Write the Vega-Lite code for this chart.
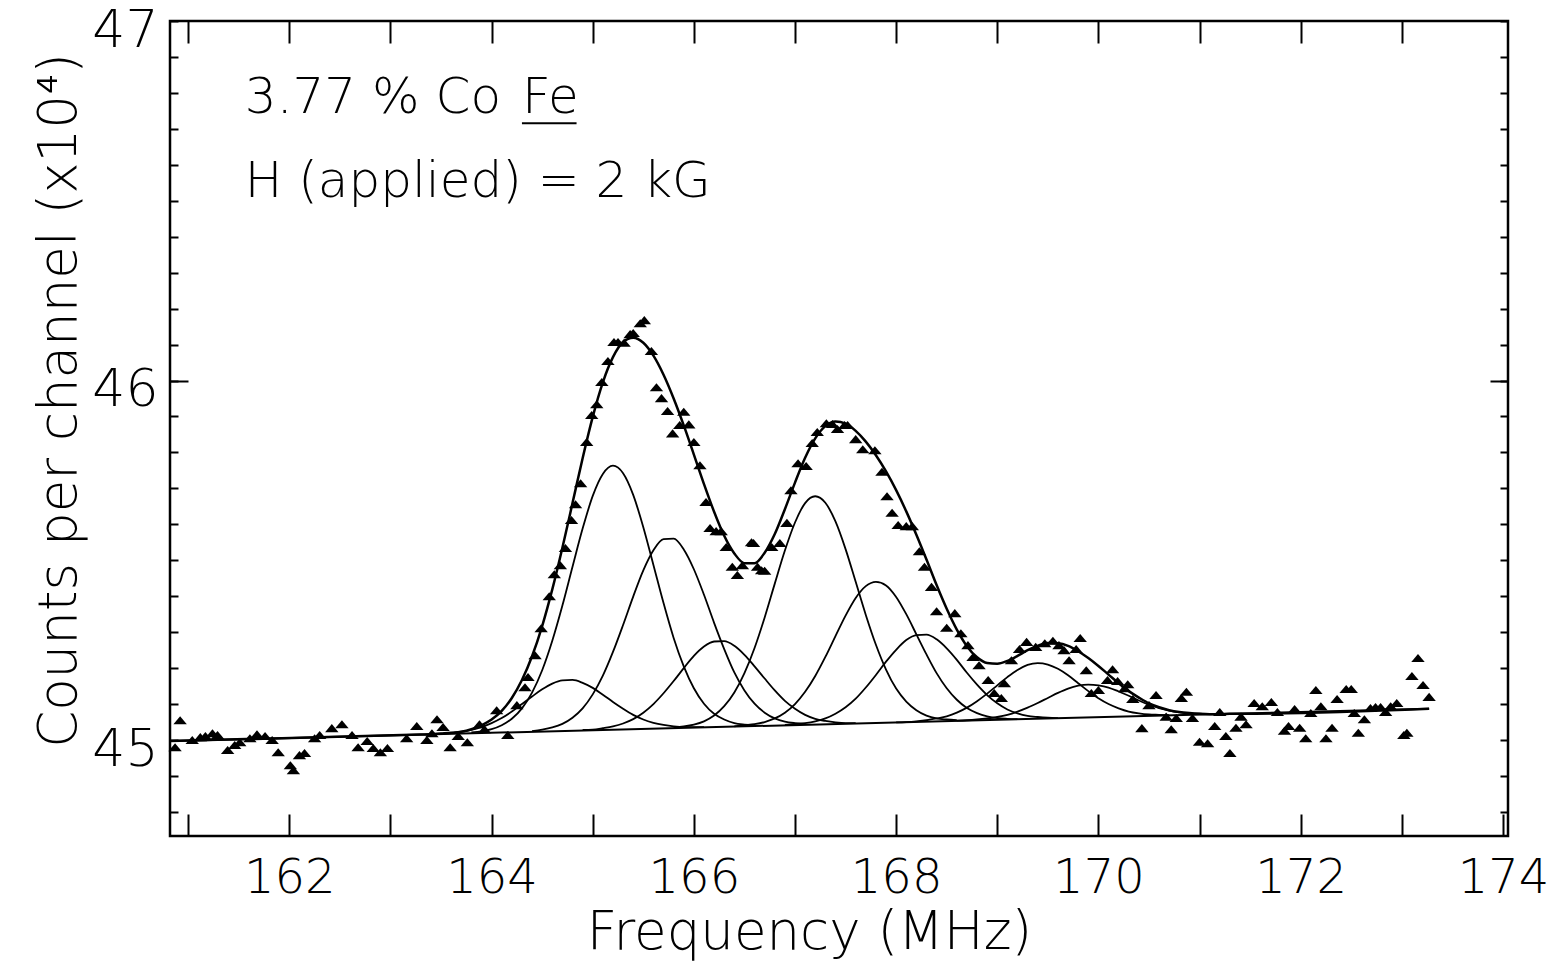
{
  "$schema": "https://vega.github.io/schema/vega-lite/v6.json",
  "width": 1338,
  "height": 815,
  "autosize": {"type": "none"},
  "padding": {"left": 170, "top": 21, "right": 42, "bottom": 132},
  "background": "white",
  "config": {
    "view": {"stroke": "black", "strokeWidth": 2.5},
    "axis": {"domain": false, "grid": false, "tickColor": "black", "tickWidth": 2, "labelColor": "black", "titleColor": "black", "labelFont": "DejaVu Sans", "titleFont": "DejaVu Sans", "labelFontWeight": 300, "titleFontWeight": 300}
  },
  "datasets": {
    "pts": [
      {"f":160.87,"c":44.980},{"f":160.92,"c":45.055},{"f":161.04,"c":45.000},{"f":161.12,"c":45.008},{"f":161.17,"c":45.011},{"f":161.24,"c":45.019},{"f":161.29,"c":45.014},{"f":161.39,"c":44.972},{"f":161.46,"c":44.986},{"f":161.51,"c":44.994},{"f":161.61,"c":45.005},{"f":161.68,"c":45.016},{"f":161.76,"c":45.011},{"f":161.83,"c":45.000},{"f":161.89,"c":44.966},{"f":162.01,"c":44.930},{"f":162.04,"c":44.916},{"f":162.10,"c":44.958},{"f":162.15,"c":44.964},{"f":162.25,"c":45.005},{"f":162.30,"c":45.014},{"f":162.42,"c":45.033},{"f":162.52,"c":45.044},{"f":162.62,"c":45.014},{"f":162.68,"c":44.980},{"f":162.77,"c":44.997},{"f":162.83,"c":44.978},{"f":162.90,"c":44.966},{"f":162.97,"c":44.978},{"f":163.16,"c":45.005},{"f":163.26,"c":45.039},{"f":163.36,"c":45.000},{"f":163.41,"c":45.019},{"f":163.46,"c":45.058},{"f":163.52,"c":45.036},{"f":163.59,"c":44.980},{"f":163.67,"c":45.011},{"f":163.76,"c":44.994},{"f":163.88,"c":45.044},{"f":163.93,"c":45.030},{"f":164.05,"c":45.083},{"f":164.16,"c":45.014},{"f":164.25,"c":45.097},{"f":164.33,"c":45.147},{"f":164.36,"c":45.175},{"f":164.43,"c":45.236},{"f":164.49,"c":45.311},{"f":164.57,"c":45.400},{"f":164.62,"c":45.461},{"f":164.68,"c":45.486},{"f":164.73,"c":45.534},{"f":164.79,"c":45.612},{"f":164.83,"c":45.656},{"f":164.88,"c":45.714},{"f":164.94,"c":45.829},{"f":164.99,"c":45.904},{"f":165.04,"c":45.934},{"f":165.09,"c":45.996},{"f":165.15,"c":46.054},{"f":165.21,"c":46.107},{"f":165.25,"c":46.107},{"f":165.31,"c":46.105},{"f":165.37,"c":46.129},{"f":165.40,"c":46.132},{"f":165.47,"c":46.159},{"f":165.51,"c":46.168},{"f":165.58,"c":46.082},{"f":165.63,"c":45.981},{"f":165.68,"c":45.951},{"f":165.74,"c":45.915},{"f":165.79,"c":45.853},{"f":165.86,"c":45.876},{"f":165.90,"c":45.913},{"f":165.95,"c":45.878},{"f":166.00,"c":45.829},{"f":166.06,"c":45.764},{"f":166.12,"c":45.662},{"f":166.16,"c":45.590},{"f":166.22,"c":45.581},{"f":166.27,"c":45.581},{"f":166.32,"c":45.537},{"f":166.38,"c":45.482},{"f":166.43,"c":45.459},{"f":166.48,"c":45.486},{"f":166.57,"c":45.550},{"f":166.59,"c":45.548},{"f":166.63,"c":45.482},{"f":166.67,"c":45.472},{"f":166.70,"c":45.471},{"f":166.77,"c":45.537},{"f":166.85,"c":45.548},{"f":166.92,"c":45.604},{"f":166.96,"c":45.695},{"f":167.03,"c":45.770},{"f":167.11,"c":45.762},{"f":167.17,"c":45.826},{"f":167.22,"c":45.857},{"f":167.31,"c":45.881},{"f":167.37,"c":45.879},{"f":167.42,"c":45.865},{"f":167.49,"c":45.876},{"f":167.52,"c":45.876},{"f":167.60,"c":45.837},{"f":167.67,"c":45.809},{"f":167.79,"c":45.806},{"f":167.86,"c":45.746},{"f":167.91,"c":45.678},{"f":167.96,"c":45.632},{"f":168.02,"c":45.598},{"f":168.10,"c":45.595},{"f":168.16,"c":45.595},{"f":168.23,"c":45.525},{"f":168.28,"c":45.482},{"f":168.35,"c":45.426},{"f":168.40,"c":45.358},{"f":168.50,"c":45.312},{"f":168.58,"c":45.353},{"f":168.64,"c":45.297},{"f":168.71,"c":45.264},{"f":168.76,"c":45.231},{"f":168.82,"c":45.208},{"f":168.91,"c":45.167},{"f":168.97,"c":45.131},{"f":169.04,"c":45.117},{"f":169.07,"c":45.158},{"f":169.14,"c":45.222},{"f":169.22,"c":45.253},{"f":169.29,"c":45.273},{"f":169.38,"c":45.259},{"f":169.47,"c":45.269},{"f":169.55,"c":45.276},{"f":169.61,"c":45.264},{"f":169.66,"c":45.250},{"f":169.71,"c":45.222},{"f":169.78,"c":45.253},{"f":169.82,"c":45.284},{"f":169.88,"c":45.194},{"f":169.93,"c":45.131},{"f":170.00,"c":45.139},{"f":170.09,"c":45.167},{"f":170.14,"c":45.197},{"f":170.19,"c":45.164},{"f":170.26,"c":45.144},{"f":170.29,"c":45.155},{"f":170.34,"c":45.114},{"f":170.43,"c":45.033},{"f":170.50,"c":45.097},{"f":170.57,"c":45.125},{"f":170.67,"c":45.065},{"f":170.72,"c":45.030},{"f":170.77,"c":45.061},{"f":170.82,"c":45.117},{"f":170.87,"c":45.134},{"f":170.93,"c":45.061},{"f":171.00,"c":44.995},{"f":171.08,"c":44.991},{"f":171.15,"c":45.039},{"f":171.20,"c":45.078},{"f":171.26,"c":45.011},{"f":171.30,"c":44.964},{"f":171.36,"c":45.034},{"f":171.41,"c":45.065},{"f":171.46,"c":45.044},{"f":171.54,"c":45.103},{"f":171.62,"c":45.094},{"f":171.71,"c":45.106},{"f":171.77,"c":45.078},{"f":171.84,"c":45.026},{"f":171.88,"c":45.039},{"f":171.94,"c":45.086},{"f":171.99,"c":45.034},{"f":172.05,"c":45.005},{"f":172.10,"c":45.075},{"f":172.15,"c":45.139},{"f":172.20,"c":45.094},{"f":172.25,"c":45.005},{"f":172.31,"c":45.034},{"f":172.36,"c":45.114},{"f":172.45,"c":45.142},{"f":172.50,"c":45.142},{"f":172.53,"c":45.075},{"f":172.57,"c":45.020},{"f":172.63,"c":45.058},{"f":172.69,"c":45.089},{"f":172.74,"c":45.092},{"f":172.79,"c":45.092},{"f":172.84,"c":45.078},{"f":172.89,"c":45.094},{"f":172.95,"c":45.103},{"f":173.02,"c":45.014},{"f":173.05,"c":45.020},{"f":173.10,"c":45.178},{"f":173.16,"c":45.228},{"f":173.21,"c":45.153},{"f":173.27,"c":45.120}
    ],
    "total": [
      {"f":160.82,"c":44.997},{"f":163.3,"c":45.015},{"f":163.4,"c":45.016},{"f":163.5,"c":45.018},{"f":163.6,"c":45.020},{"f":163.7,"c":45.023},{"f":163.8,"c":45.030},{"f":163.9,"c":45.041},{"f":164.0,"c":45.057},{"f":164.1,"c":45.081},{"f":164.2,"c":45.117},{"f":164.3,"c":45.167},{"f":164.4,"c":45.233},{"f":164.5,"c":45.317},{"f":164.6,"c":45.419},{"f":164.7,"c":45.535},{"f":164.8,"c":45.659},{"f":164.9,"c":45.784},{"f":165.0,"c":45.899},{"f":165.1,"c":45.995},{"f":165.2,"c":46.065},{"f":165.3,"c":46.107},{"f":165.4,"c":46.119},{"f":165.5,"c":46.105},{"f":165.6,"c":46.069},{"f":165.7,"c":46.016},{"f":165.8,"c":45.950},{"f":165.9,"c":45.875},{"f":166.0,"c":45.794},{"f":166.1,"c":45.712},{"f":166.2,"c":45.635},{"f":166.3,"c":45.568},{"f":166.4,"c":45.519},{"f":166.5,"c":45.492},{"f":166.6,"c":45.492},{"f":166.7,"c":45.521},{"f":166.8,"c":45.573},{"f":166.9,"c":45.642},{"f":167.0,"c":45.716},{"f":167.1,"c":45.785},{"f":167.2,"c":45.839},{"f":167.3,"c":45.873},{"f":167.4,"c":45.886},{"f":167.5,"c":45.880},{"f":167.6,"c":45.860},{"f":167.7,"c":45.830},{"f":167.8,"c":45.792},{"f":167.9,"c":45.747},{"f":168.0,"c":45.695},{"f":168.1,"c":45.636},{"f":168.2,"c":45.571},{"f":168.3,"c":45.502},{"f":168.4,"c":45.431},{"f":168.5,"c":45.365},{"f":168.6,"c":45.307},{"f":168.7,"c":45.261},{"f":168.8,"c":45.230},{"f":168.9,"c":45.214},{"f":169.0,"c":45.212},{"f":169.1,"c":45.220},{"f":169.2,"c":45.234},{"f":169.3,"c":45.250},{"f":169.4,"c":45.262},{"f":169.5,"c":45.270},{"f":169.6,"c":45.269},{"f":169.7,"c":45.262},{"f":169.8,"c":45.247},{"f":169.9,"c":45.228},{"f":170.0,"c":45.206},{"f":170.1,"c":45.182},{"f":170.2,"c":45.158},{"f":170.3,"c":45.136},{"f":170.4,"c":45.118},{"f":170.5,"c":45.102},{"f":170.6,"c":45.091},{"f":170.7,"c":45.083},{"f":170.8,"c":45.078},{"f":170.9,"c":45.075},{"f":171.0,"c":45.073},{"f":171.1,"c":45.072},{"f":171.2,"c":45.072},{"f":171.3,"c":45.073},{"f":171.4,"c":45.073},{"f":173.27,"c":45.087}
    ],
    "base": [{"f":160.82,"c":44.997},{"f":173.27,"c":45.087}],
    "comps": [
      {"k":"c1","f":163.4,"c":45.016},{"k":"c1","f":163.5,"c":45.018},{"k":"c1","f":163.6,"c":45.020},{"k":"c1","f":163.7,"c":45.023},{"k":"c1","f":163.8,"c":45.028},{"k":"c1","f":163.9,"c":45.036},{"k":"c1","f":164.0,"c":45.047},{"k":"c1","f":164.1,"c":45.061},{"k":"c1","f":164.2,"c":45.079},{"k":"c1","f":164.3,"c":45.100},{"k":"c1","f":164.4,"c":45.121},{"k":"c1","f":164.5,"c":45.141},{"k":"c1","f":164.6,"c":45.157},{"k":"c1","f":164.7,"c":45.166},{"k":"c1","f":164.8,"c":45.167},{"k":"c1","f":164.9,"c":45.159},{"k":"c1","f":165.0,"c":45.145},{"k":"c1","f":165.1,"c":45.126},{"k":"c1","f":165.2,"c":45.106},{"k":"c1","f":165.3,"c":45.087},{"k":"c1","f":165.4,"c":45.070},{"k":"c1","f":165.5,"c":45.057},{"k":"c1","f":165.6,"c":45.048},{"k":"c1","f":165.7,"c":45.042},{"k":"c1","f":165.8,"c":45.038},{"k":"c1","f":165.9,"c":45.036},{"k":"c1","f":166.0,"c":45.036},{"k":"c1","f":166.1,"c":45.036},
      {"k":"c2","f":163.8,"c":45.021},{"k":"c2","f":163.9,"c":45.024},{"k":"c2","f":164.0,"c":45.030},{"k":"c2","f":164.1,"c":45.041},{"k":"c2","f":164.2,"c":45.059},{"k":"c2","f":164.3,"c":45.088},{"k":"c2","f":164.4,"c":45.132},{"k":"c2","f":164.5,"c":45.194},{"k":"c2","f":164.6,"c":45.276},{"k":"c2","f":164.7,"c":45.374},{"k":"c2","f":164.8,"c":45.482},{"k":"c2","f":164.9,"c":45.588},{"k":"c2","f":165.0,"c":45.679},{"k":"c2","f":165.1,"c":45.740},{"k":"c2","f":165.2,"c":45.763},{"k":"c2","f":165.3,"c":45.742},{"k":"c2","f":165.4,"c":45.682},{"k":"c2","f":165.5,"c":45.592},{"k":"c2","f":165.6,"c":45.487},{"k":"c2","f":165.7,"c":45.381},{"k":"c2","f":165.8,"c":45.284},{"k":"c2","f":165.9,"c":45.205},{"k":"c2","f":166.0,"c":45.144},{"k":"c2","f":166.1,"c":45.101},{"k":"c2","f":166.2,"c":45.073},{"k":"c2","f":166.3,"c":45.057},{"k":"c2","f":166.4,"c":45.047},{"k":"c2","f":166.5,"c":45.043},{"k":"c2","f":166.6,"c":45.041},
      {"k":"c3","f":164.4,"c":45.025},{"k":"c3","f":164.5,"c":45.029},{"k":"c3","f":164.6,"c":45.035},{"k":"c3","f":164.7,"c":45.045},{"k":"c3","f":164.8,"c":45.062},{"k":"c3","f":164.9,"c":45.088},{"k":"c3","f":165.0,"c":45.127},{"k":"c3","f":165.1,"c":45.179},{"k":"c3","f":165.2,"c":45.245},{"k":"c3","f":165.3,"c":45.320},{"k":"c3","f":165.4,"c":45.399},{"k":"c3","f":165.5,"c":45.472},{"k":"c3","f":165.6,"c":45.528},{"k":"c3","f":165.7,"c":45.559},{"k":"c3","f":165.8,"c":45.560},{"k":"c3","f":165.9,"c":45.530},{"k":"c3","f":166.0,"c":45.475},{"k":"c3","f":166.1,"c":45.404},{"k":"c3","f":166.2,"c":45.326},{"k":"c3","f":166.3,"c":45.253},{"k":"c3","f":166.4,"c":45.188},{"k":"c3","f":166.5,"c":45.138},{"k":"c3","f":166.6,"c":45.101},{"k":"c3","f":166.7,"c":45.076},{"k":"c3","f":166.8,"c":45.060},{"k":"c3","f":166.9,"c":45.051},{"k":"c3","f":167.0,"c":45.047},{"k":"c3","f":167.1,"c":45.045},
      {"k":"c4","f":164.9,"c":45.028},{"k":"c4","f":165.0,"c":45.029},{"k":"c4","f":165.1,"c":45.033},{"k":"c4","f":165.2,"c":45.038},{"k":"c4","f":165.3,"c":45.046},{"k":"c4","f":165.4,"c":45.058},{"k":"c4","f":165.5,"c":45.076},{"k":"c4","f":165.6,"c":45.100},{"k":"c4","f":165.7,"c":45.130},{"k":"c4","f":165.8,"c":45.164},{"k":"c4","f":165.9,"c":45.200},{"k":"c4","f":166.0,"c":45.234},{"k":"c4","f":166.1,"c":45.260},{"k":"c4","f":166.2,"c":45.274},{"k":"c4","f":166.3,"c":45.275},{"k":"c4","f":166.4,"c":45.262},{"k":"c4","f":166.5,"c":45.237},{"k":"c4","f":166.6,"c":45.205},{"k":"c4","f":166.7,"c":45.171},{"k":"c4","f":166.8,"c":45.138},{"k":"c4","f":166.9,"c":45.109},{"k":"c4","f":167.0,"c":45.087},{"k":"c4","f":167.1,"c":45.070},{"k":"c4","f":167.2,"c":45.059},{"k":"c4","f":167.3,"c":45.053},{"k":"c4","f":167.4,"c":45.049},{"k":"c4","f":167.5,"c":45.047},{"k":"c4","f":167.6,"c":45.047},
      {"k":"c5","f":165.8,"c":45.035},{"k":"c5","f":165.9,"c":45.038},{"k":"c5","f":166.0,"c":45.043},{"k":"c5","f":166.1,"c":45.052},{"k":"c5","f":166.2,"c":45.068},{"k":"c5","f":166.3,"c":45.094},{"k":"c5","f":166.4,"c":45.132},{"k":"c5","f":166.5,"c":45.186},{"k":"c5","f":166.6,"c":45.256},{"k":"c5","f":166.7,"c":45.341},{"k":"c5","f":166.8,"c":45.435},{"k":"c5","f":166.9,"c":45.527},{"k":"c5","f":167.0,"c":45.605},{"k":"c5","f":167.1,"c":45.659},{"k":"c5","f":167.2,"c":45.678},{"k":"c5","f":167.3,"c":45.660},{"k":"c5","f":167.4,"c":45.608},{"k":"c5","f":167.5,"c":45.531},{"k":"c5","f":167.6,"c":45.440},{"k":"c5","f":167.7,"c":45.348},{"k":"c5","f":167.8,"c":45.265},{"k":"c5","f":167.9,"c":45.196},{"k":"c5","f":168.0,"c":45.143},{"k":"c5","f":168.1,"c":45.107},{"k":"c5","f":168.2,"c":45.083},{"k":"c5","f":168.3,"c":45.068},{"k":"c5","f":168.4,"c":45.060},{"k":"c5","f":168.5,"c":45.057},{"k":"c5","f":168.6,"c":45.055},
      {"k":"c6","f":166.4,"c":45.038},{"k":"c6","f":166.5,"c":45.041},{"k":"c6","f":166.6,"c":45.044},{"k":"c6","f":166.7,"c":45.050},{"k":"c6","f":166.8,"c":45.060},{"k":"c6","f":166.9,"c":45.076},{"k":"c6","f":167.0,"c":45.100},{"k":"c6","f":167.1,"c":45.134},{"k":"c6","f":167.2,"c":45.178},{"k":"c6","f":167.3,"c":45.231},{"k":"c6","f":167.4,"c":45.289},{"k":"c6","f":167.5,"c":45.346},{"k":"c6","f":167.6,"c":45.395},{"k":"c6","f":167.7,"c":45.428},{"k":"c6","f":167.8,"c":45.440},{"k":"c6","f":167.9,"c":45.430},{"k":"c6","f":168.0,"c":45.398},{"k":"c6","f":168.1,"c":45.350},{"k":"c6","f":168.2,"c":45.294},{"k":"c6","f":168.3,"c":45.238},{"k":"c6","f":168.4,"c":45.186},{"k":"c6","f":168.5,"c":45.144},{"k":"c6","f":168.6,"c":45.112},{"k":"c6","f":168.7,"c":45.089},{"k":"c6","f":168.8,"c":45.075},{"k":"c6","f":168.9,"c":45.066},{"k":"c6","f":169.0,"c":45.061},{"k":"c6","f":169.1,"c":45.059},{"k":"c6","f":169.2,"c":45.058},
      {"k":"c7","f":166.9,"c":45.042},{"k":"c7","f":167.0,"c":45.044},{"k":"c7","f":167.1,"c":45.047},{"k":"c7","f":167.2,"c":45.052},{"k":"c7","f":167.3,"c":45.060},{"k":"c7","f":167.4,"c":45.073},{"k":"c7","f":167.5,"c":45.091},{"k":"c7","f":167.6,"c":45.115},{"k":"c7","f":167.7,"c":45.146},{"k":"c7","f":167.8,"c":45.181},{"k":"c7","f":167.9,"c":45.218},{"k":"c7","f":168.0,"c":45.251},{"k":"c7","f":168.1,"c":45.278},{"k":"c7","f":168.2,"c":45.292},{"k":"c7","f":168.3,"c":45.293},{"k":"c7","f":168.4,"c":45.280},{"k":"c7","f":168.5,"c":45.255},{"k":"c7","f":168.6,"c":45.223},{"k":"c7","f":168.7,"c":45.187},{"k":"c7","f":168.8,"c":45.154},{"k":"c7","f":168.9,"c":45.125},{"k":"c7","f":169.0,"c":45.102},{"k":"c7","f":169.1,"c":45.085},{"k":"c7","f":169.2,"c":45.074},{"k":"c7","f":169.3,"c":45.067},{"k":"c7","f":169.4,"c":45.064},{"k":"c7","f":169.5,"c":45.062},{"k":"c7","f":169.6,"c":45.061},
      {"k":"c8","f":168.0,"c":45.049},{"k":"c8","f":168.1,"c":45.050},{"k":"c8","f":168.2,"c":45.052},{"k":"c8","f":168.3,"c":45.055},{"k":"c8","f":168.4,"c":45.060},{"k":"c8","f":168.5,"c":45.066},{"k":"c8","f":168.6,"c":45.076},{"k":"c8","f":168.7,"c":45.090},{"k":"c8","f":168.8,"c":45.108},{"k":"c8","f":168.9,"c":45.129},{"k":"c8","f":169.0,"c":45.152},{"k":"c8","f":169.1,"c":45.175},{"k":"c8","f":169.2,"c":45.195},{"k":"c8","f":169.3,"c":45.209},{"k":"c8","f":169.4,"c":45.214},{"k":"c8","f":169.5,"c":45.210},{"k":"c8","f":169.6,"c":45.198},{"k":"c8","f":169.7,"c":45.180},{"k":"c8","f":169.8,"c":45.158},{"k":"c8","f":169.9,"c":45.136},{"k":"c8","f":170.0,"c":45.116},{"k":"c8","f":170.1,"c":45.100},{"k":"c8","f":170.2,"c":45.088},{"k":"c8","f":170.3,"c":45.079},{"k":"c8","f":170.4,"c":45.074},{"k":"c8","f":170.5,"c":45.071},{"k":"c8","f":170.6,"c":45.070},{"k":"c8","f":170.7,"c":45.069},
      {"k":"c9","f":168.6,"c":45.054},{"k":"c9","f":168.7,"c":45.055},{"k":"c9","f":168.8,"c":45.057},{"k":"c9","f":168.9,"c":45.060},{"k":"c9","f":169.0,"c":45.064},{"k":"c9","f":169.1,"c":45.070},{"k":"c9","f":169.2,"c":45.079},{"k":"c9","f":169.3,"c":45.090},{"k":"c9","f":169.4,"c":45.103},{"k":"c9","f":169.5,"c":45.117},{"k":"c9","f":169.6,"c":45.131},{"k":"c9","f":169.7,"c":45.143},{"k":"c9","f":169.8,"c":45.151},{"k":"c9","f":169.9,"c":45.154},{"k":"c9","f":170.0,"c":45.152},{"k":"c9","f":170.1,"c":45.146},{"k":"c9","f":170.2,"c":45.135},{"k":"c9","f":170.3,"c":45.123},{"k":"c9","f":170.4,"c":45.110},{"k":"c9","f":170.5,"c":45.098},{"k":"c9","f":170.6,"c":45.089},{"k":"c9","f":170.7,"c":45.082},{"k":"c9","f":170.8,"c":45.077},{"k":"c9","f":170.9,"c":45.074},{"k":"c9","f":171.0,"c":45.073},{"k":"c9","f":171.1,"c":45.072},{"k":"c9","f":171.2,"c":45.072}
    ],
    "one": [{}]
  },
  "layer": [
    {
      "data": {"name": "comps"},
      "mark": {"type": "line", "color": "black", "strokeWidth": 1.8, "interpolate": "monotone"},
      "encoding": {
        "x": {"field": "f", "type": "quantitative", "scale": {"domain": [160.82, 174.05], "nice": false, "zero": false}, "axis": null},
        "y": {"field": "c", "type": "quantitative", "scale": {"domain": [44.733, 47], "nice": false, "zero": false},
              "axis": {"orient": "left", "values": [46], "tickSize": -18, "labels": false, "title": null}},
        "detail": {"field": "k", "type": "nominal"}
      }
    },
    {
      "data": {"name": "base"},
      "mark": {"type": "line", "color": "black", "strokeWidth": 2},
      "encoding": {
        "x": {"field": "f", "type": "quantitative", "scale": {"domain": [160.82, 174.05], "nice": false, "zero": false}, "axis": null},
        "y": {"field": "c", "type": "quantitative", "scale": {"domain": [44.733, 47], "nice": false, "zero": false},
              "axis": {"orient": "right", "values": [46], "tickSize": -18, "labels": false, "title": null}}
      }
    },
    {
      "data": {"name": "total"},
      "mark": {"type": "line", "color": "black", "strokeWidth": 2.5, "interpolate": "monotone"},
      "encoding": {
        "x": {"field": "f", "type": "quantitative", "scale": {"domain": [160.82, 174.05], "nice": false, "zero": false},
              "axis": {"orient": "top", "values": [161,162,163,164,165,166,167,168,169,170,171,172,173], "tickSize": -22, "labels": false, "title": null}},
        "y": {"field": "c", "type": "quantitative", "scale": {"domain": [44.733, 47], "nice": false, "zero": false},
              "axis": {"orient": "right", "values": [44.8,44.9,45,45.1,45.2,45.3,45.4,45.5,45.6,45.7,45.8,45.9,46,46.1,46.2,46.3,46.4,46.5,46.6,46.7,46.8,46.9,47], "tickSize": -8, "labels": false, "title": null}}
      }
    },
    {
      "data": {"name": "pts"},
      "mark": {"type": "point", "shape": "M-1,0.6L0,-0.6L1,0.6Z", "filled": true, "color": "black", "size": 180, "opacity": 1},
      "encoding": {
        "x": {"field": "f", "type": "quantitative", "scale": {"domain": [160.82, 174.05], "nice": false, "zero": false},
              "axis": {"orient": "bottom", "values": [161,162,163,164,165,166,167,168,169,170,171,172,173,174], "tickSize": -22, "labelPadding": 40, "labelFontSize": 48, "labelFlush": false, "labelOverlap": false, "format": "d",
                       "labelExpr": "datum.value % 2 == 0 ? datum.label : ''",
                       "title": "Frequency  (MHz)", "titleFontSize": 53, "titleX": 639, "titleY": 112, "titleBaseline": "alphabetic", "titleAlign": "center"}},
        "y": {"field": "c", "type": "quantitative", "scale": {"domain": [44.733, 47], "nice": false, "zero": false},
              "axis": {"orient": "left", "values": [44.8,44.9,45,45.1,45.2,45.3,45.4,45.5,45.6,45.7,45.8,45.9,46,46.1,46.2,46.3,46.4,46.5,46.6,46.7,46.8,46.9,47], "tickSize": -8, "labelPadding": 20, "labelFontSize": 52, "labelOffset": 9, "labelFlush": false, "labelOverlap": false, "format": ".0f",
                       "labelExpr": "abs(datum.value - round(datum.value)) < 0.001 ? datum.label : ''",
                       "title": "Counts per channel (x10⁴)", "titleFontSize": 53, "titleX": -95, "titleY": 379, "titleBaseline": "alphabetic", "titleAlign": "center", "titleAngle": -90}}
      }
    },
    {
      "data": {"name": "one"},
      "mark": {"type": "text", "text": "3.77 % Co", "align": "left", "baseline": "alphabetic", "fontSize": 50, "font": "DejaVu Sans", "fontWeight": 300, "color": "black"},
      "encoding": {"x": {"datum": 161.56, "type": "quantitative", "axis": null}, "y": {"datum": 46.743, "type": "quantitative", "axis": null}}
    },
    {
      "data": {"name": "one"},
      "mark": {"type": "text", "text": "Fe", "align": "left", "baseline": "alphabetic", "fontSize": 50, "font": "DejaVu Sans", "fontWeight": 300, "color": "black"},
      "encoding": {"x": {"datum": 164.3, "type": "quantitative", "axis": null}, "y": {"datum": 46.743, "type": "quantitative", "axis": null}}
    },
    {
      "data": {"name": "one"},
      "mark": {"type": "rule", "color": "black", "strokeWidth": 2},
      "encoding": {"x": {"datum": 164.3, "type": "quantitative", "axis": null}, "x2": {"datum": 164.84}, "y": {"datum": 46.7155, "type": "quantitative", "axis": null}}
    },
    {
      "data": {"name": "one"},
      "mark": {"type": "text", "text": "H (applied) = 2 kG", "align": "left", "baseline": "alphabetic", "fontSize": 50, "font": "DejaVu Sans", "fontWeight": 300, "color": "black"},
      "encoding": {"x": {"datum": 161.56, "type": "quantitative", "axis": null}, "y": {"datum": 46.510, "type": "quantitative", "axis": null}}
    }
  ],
  "resolve": {"axis": {"x": "independent", "y": "independent"}}
}
